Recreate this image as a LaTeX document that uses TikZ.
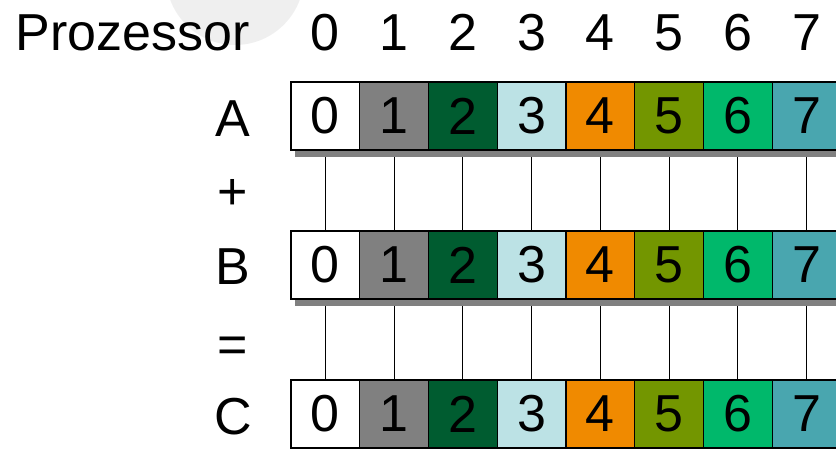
\documentclass[tikz,border=0pt]{standalone}
\usepackage{fontspec}
\setmainfont{Liberation Sans}
\usetikzlibrary{backgrounds,calc}
\definecolor{c0}{HTML}{FFFFFF}
\definecolor{c1}{HTML}{808080}
\definecolor{c2}{HTML}{005C30}
\definecolor{c3}{HTML}{BCE2E5}
\definecolor{c4}{HTML}{F08A00}
\definecolor{c5}{HTML}{739600}
\definecolor{c6}{HTML}{00B86B}
\definecolor{c7}{HTML}{49A6AF}
\definecolor{bgcirc}{HTML}{EFEFEF}
\definecolor{shadowgray}{HTML}{808080}
\begin{document}
\begin{tikzpicture}[x=1pt,y=1pt,
  bigfont/.style={font=\fontsize{52}{52}\selectfont},
  cell/.style={draw=black, line width=1.3pt, minimum width=68.75pt, minimum height=68pt, inner sep=0pt, bigfont},
  lbl/.style={anchor=base, inner sep=0pt, bigfont},
  conn/.style={draw=black, line width=0.9pt},
  shade/.style={fill=shadowgray}]
\useasboundingbox (0,0) rectangle (836,449);
\clip (0,0) rectangle (836,449);
% header
\node[lbl, anchor=base east] (proz) at (250,398.5) {Prozessor};
\foreach \i in {0,...,7} {
  \node[lbl] (h\i) at ({291+68.75*(\i+0.5)},398.5) {\i};
}
% row labels
\node[lbl] (la) at (233,312.3) {A};
\node[lbl] (lplus) at (233,239) {+};
\node[lbl] (lb) at (233,164) {B};
\node[lbl] (leq) at (233,86) {=};
\node[lbl] (lc) at (233,14) {C};
% cells
\foreach \i in {0,...,7} {
  \node[cell, fill=c\i] (a\i) at ({291+68.75*(\i+0.5)},333) {\i};
  \node[cell, fill=c\i] (b\i) at ({291+68.75*(\i+0.5)},184) {\i};
  \node[cell, fill=c\i] (c\i) at ({291+68.75*(\i+0.5)},35) {\i};
}
\begin{scope}[on background layer]
  \fill[bgcirc] (235,473) circle (69);
  \foreach \i in {0,...,7} {
    \draw[conn] (a\i.south) -- (b\i.north);
    \draw[conn] (b\i.south) -- (c\i.north);
  }
  \fill[shade] ($(a0.south west)+(5,-6)$) rectangle ($(a7.north east)+(5,-6)$);
  \fill[shade] ($(b0.south west)+(5,-6)$) rectangle ($(b7.north east)+(5,-6)$);
  \fill[shade] ($(c0.south west)+(5,-6)$) rectangle ($(c7.north east)+(5,-6)$);
\end{scope}
\end{tikzpicture}
\end{document}
